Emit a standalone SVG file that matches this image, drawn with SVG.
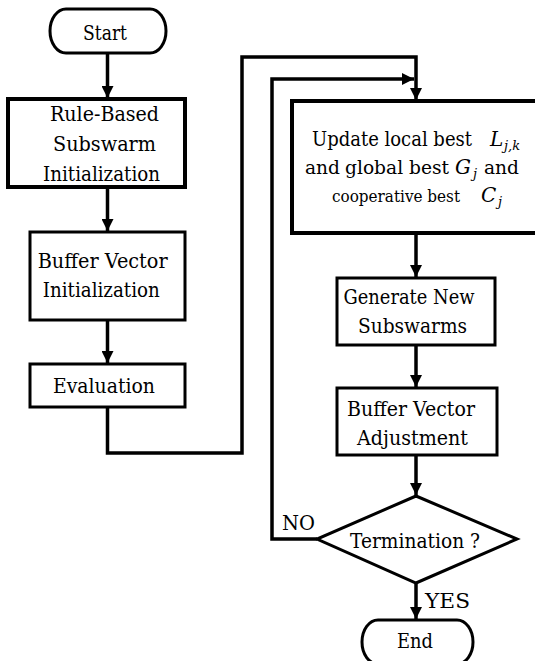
<svg xmlns="http://www.w3.org/2000/svg" width="535" height="661" viewBox="0 0 535 661">
<defs>
<marker id="arr" markerUnits="userSpaceOnUse" markerWidth="12" markerHeight="12" refX="12" refY="6" orient="auto">
<path d="M0,0 L12,6 L0,12 Z" fill="#000"/>
</marker>
<style>
.box{fill:#fff;stroke:#000;stroke-width:3}
.thick{stroke-width:4}
text{font-family:'DejaVu Serif','Liberation Serif',serif;fill:#000}
.t{font-size:21px;text-anchor:middle}
.l{font-size:19px}
.i{font-size:20px;font-style:italic}
.sub{font-size:13px;font-style:italic}
.c{fill:none;stroke:#000;stroke-width:3.5}
</style>
</defs>
<rect width="535" height="661" fill="#fff"/>
<g id="connectors">
<path class="c" d="M107.5,54 V98" marker-end="url(#arr)"/>
<path class="c" d="M107.5,188 V231" marker-end="url(#arr)"/>
<path class="c" d="M107.5,321 V363" marker-end="url(#arr)"/>
<path class="c" d="M107.5,408 V453 H242 V57 H416 V100" marker-end="url(#arr)"/>
<path class="c" d="M317,539 H272 V79 H414" marker-end="url(#arr)"/>
<path class="c" d="M416,234 V277" marker-end="url(#arr)"/>
<path class="c" d="M416,346 V387" marker-end="url(#arr)"/>
<path class="c" d="M416,456 V495" marker-end="url(#arr)"/>
<path class="c" d="M416,584 V619" marker-end="url(#arr)"/>
<text class="t" x="298.5" y="530" textLength="33" lengthAdjust="spacingAndGlyphs">NO</text>
<text class="t" x="447.5" y="608" textLength="45" lengthAdjust="spacingAndGlyphs">YES</text>
</g>
<g id="start">
<path class="box" d="M66,9 H150 A16,22 0 0 1 150,53 H66 A16,22 0 0 1 66,9 Z"/>
<text class="t" x="105" y="40" textLength="44" lengthAdjust="spacingAndGlyphs">Start</text>
</g>
<g id="rule">
<rect class="box thick" x="8" y="99" width="177" height="88"/>
<text class="t" x="104.5" y="121" textLength="109" lengthAdjust="spacingAndGlyphs">Rule-Based</text>
<text class="t" x="104.5" y="151" textLength="103" lengthAdjust="spacingAndGlyphs">Subswarm</text>
<text class="t" x="101.5" y="181" textLength="117" lengthAdjust="spacingAndGlyphs">Initialization</text>
</g>
<g id="bufinit">
<rect class="box" x="30" y="232" width="155" height="88"/>
<text class="t" x="102.7" y="268" textLength="130" lengthAdjust="spacingAndGlyphs">Buffer Vector</text>
<text class="t" x="101.3" y="297" textLength="117" lengthAdjust="spacingAndGlyphs">Initialization</text>
</g>
<g id="eval">
<rect class="box" x="30" y="364" width="155" height="43"/>
<text class="t" x="104" y="393" textLength="102" lengthAdjust="spacingAndGlyphs">Evaluation</text>
</g>
<g id="update">
<rect class="box thick" x="292" y="101" width="250" height="132"/>
<text class="l" x="312" y="146" style="font-size:19.5px" textLength="160" lengthAdjust="spacingAndGlyphs">Update local best</text>
<text class="i" x="490" y="146">L</text>
<text class="sub" x="504" y="150">j,k</text>
<text class="l" x="305" y="174" textLength="35" lengthAdjust="spacingAndGlyphs">and</text>
<text class="l" x="345" y="174" textLength="104" lengthAdjust="spacingAndGlyphs">global best</text>
<text class="i" x="455" y="174">G</text>
<text class="sub" x="473" y="178">j</text>
<text class="l" x="484" y="174" textLength="35" lengthAdjust="spacingAndGlyphs">and</text>
<text class="l" x="332" y="202" style="font-size:16px" textLength="128" lengthAdjust="spacingAndGlyphs">cooperative best</text>
<text class="i" x="481" y="202">C</text>
<text class="sub" x="498" y="206">j</text>
</g>
<g id="generate">
<rect class="box" x="337" y="278" width="158" height="67"/>
<text class="t" x="409" y="304" textLength="131" lengthAdjust="spacingAndGlyphs">Generate New</text>
<text class="t" x="412.5" y="333" textLength="109" lengthAdjust="spacingAndGlyphs">Subswarms</text>
</g>
<g id="bufadj">
<rect class="box" x="337" y="388" width="160" height="67"/>
<text class="t" x="411" y="416" textLength="128" lengthAdjust="spacingAndGlyphs">Buffer Vector</text>
<text class="t" x="412.5" y="445" textLength="111" lengthAdjust="spacingAndGlyphs">Adjustment</text>
</g>
<g id="term">
<path class="box" d="M416,496 L517,539 L416,583 L317,539 Z"/>
<text class="t" x="415" y="548" textLength="130" lengthAdjust="spacingAndGlyphs">Termination ?</text>
</g>
<g id="end">
<path class="box" d="M378,620 H457 A16,22 0 0 1 457,664 H378 A16,22 0 0 1 378,620 Z"/>
<text class="t" x="415" y="648" textLength="36" lengthAdjust="spacingAndGlyphs">End</text>
</g>
</svg>
